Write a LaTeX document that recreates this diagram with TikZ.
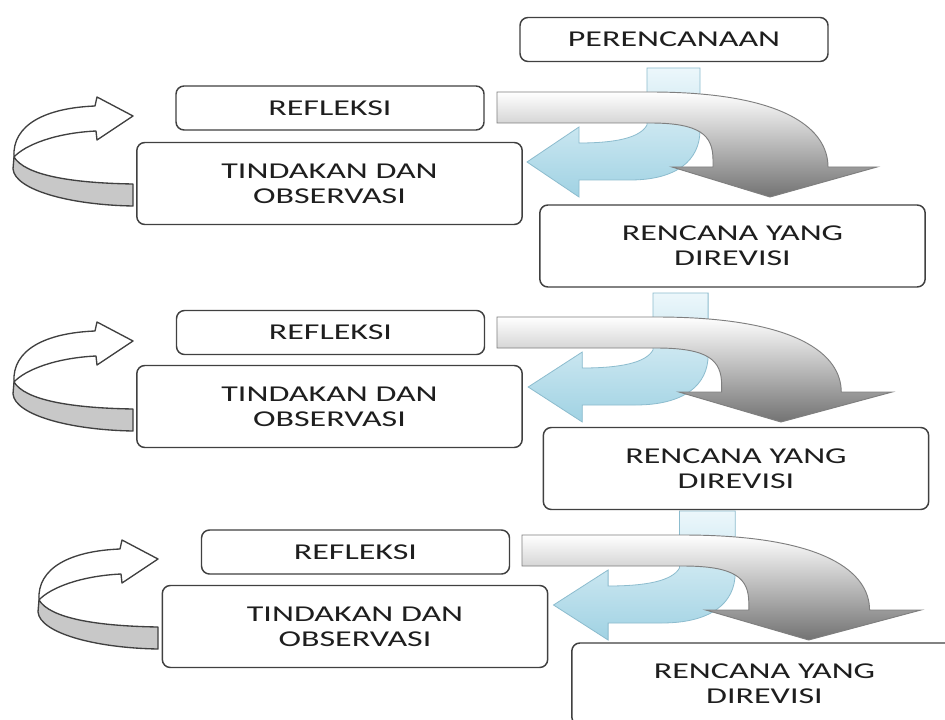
\documentclass[tikz,border=0pt]{standalone}
\usepackage{fontspec}
\setmainfont[FakeStretch=1.5]{Carlito}

\definecolor{boxline}{HTML}{404040}
\definecolor{boxtext}{HTML}{1E1E1E}
\definecolor{bluepale}{RGB}{236,247,251}
\definecolor{bluemid}{RGB}{160,210,227}
\definecolor{blueline}{RGB}{140,188,206}
\definecolor{greyline}{HTML}{7F7F7F}
\definecolor{ribbon}{HTML}{C8C8C8}

\begin{document}
\begin{tikzpicture}[x=0.75pt, y=-0.75pt,
    stage/.style={draw=boxline, line width=1.1pt, rounded corners=6pt, fill=white,
      text=boxtext, align=center, font=\fontsize{17}{19}\selectfont, inner sep=0pt},
    smallstage/.style={stage, minimum width=231pt, minimum height=33pt},
    bigstage/.style={stage, minimum width=289pt, minimum height=61.5pt},
    loopline/.style={draw=boxline, line width=1pt, line join=round},
    bluearrow/.style={draw=blueline, line width=0.6pt, top color=bluepale, bottom color=bluemid},
    greyarrow/.style={draw=greyline, line width=0.7pt, top color=white, bottom color=black!55}]
  \useasboundingbox (0,0) rectangle (945,720);
  \fill[white] (0,0) rectangle (945,720);
  \clip (0,0) rectangle (945,720);
  % arrows of the three cycles
  \foreach \dx/\dy/\s in {0/0/1, 0/225/1.04, 25/443/1.05} {
    % loop back to refleksi
    \begin{scope}[shift={(\dx,\dy)}]
      \draw[loopline, fill=ribbon] (14,157) .. controls (25,175) and (70,183) .. (133,184)
        -- (133,206) .. controls (70,205) and (15,190) .. (13,169) -- cycle;
      \draw[loopline, fill=white] (14,157) .. controls (12,125) and (45,108) .. (95,106)
        -- (97,97) -- (133,116) -- (97,140) -- (96,131)
        .. controls (55,133) and (25,145) .. (14,157) -- cycle;
    \end{scope}
    % blue turn and grey bent arrow
    \begin{scope}[shift={(497+\dx,92+\dy)}, xscale=\s]
      \draw[bluearrow] (150,-24) -- (150,33) .. controls (143,46) and (118,51) .. (82,51)
        -- (82,35) -- (30,70) -- (82,105) -- (82,88) -- (133,88)
        .. controls (180,88) and (203,68) .. (203,38) -- (203,-24) -- cycle;
      \draw[greyarrow] (0,0) -- (153,0) .. controls (290,0) and (331,38) .. (331,75)
        -- (380,75) -- (273,105) -- (175,75) -- (216,75) -- (216,68)
        .. controls (216,43) and (203,31) .. (153,31) -- (0,31) -- cycle;
    \end{scope}
  }
  % stages
  \node[smallstage] (plan) at (674,39.5) {PERENCANAAN};
  \node[smallstage] (refl1) at (330,108) {REFLEKSI};
  \node[bigstage] (tind1) at (329.5,183.5) {TINDAKAN DAN\\OBSERVASI};
  \node[bigstage] (renc1) at (732.5,246) {RENCANA YANG\\DIREVISI};
  \node[smallstage] (refl2) at (330.5,332.5) {REFLEKSI};
  \node[bigstage] (tind2) at (329.5,406.5) {TINDAKAN DAN\\OBSERVASI};
  \node[bigstage] (renc2) at (736,468.5) {RENCANA YANG\\DIREVISI};
  \node[smallstage] (refl3) at (355.5,552) {REFLEKSI};
  \node[bigstage] (tind3) at (355,626.5) {TINDAKAN DAN\\OBSERVASI};
  \node[bigstage] (renc3) at (764.5,684) {RENCANA YANG\\DIREVISI};
\end{tikzpicture}
\end{document}
